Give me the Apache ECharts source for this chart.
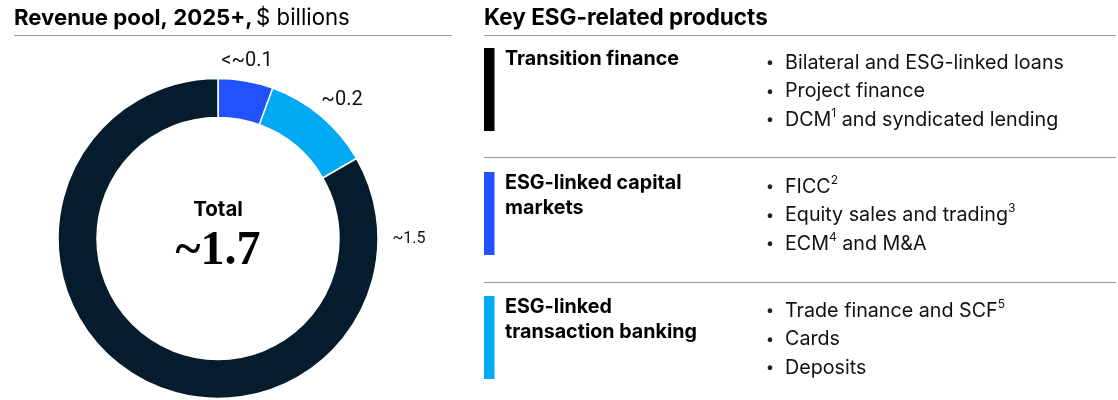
<!DOCTYPE html>
<html>
<head>
<meta charset="utf-8">
<script src="https://cdn.jsdelivr.net/npm/echarts@6/dist/echarts.min.js"></script>
<style>
html,body{margin:0;padding:0;background:#fff;}
#c{width:1118px;height:400px;}
</style>
</head>
<body>
<div id="c"></div>
<script>
// ---- data ----
const segmentNames = ['ESG-linked capital markets', 'ESG-linked transaction banking', 'Transition finance'];
const segmentValues = [0.1, 0.2, 1.5];
const segmentLabels = ['<~0.1', '~0.2', '~1.5'];
const segmentColors = ['#2251FF', '#00A9F4', '#051C2C'];
const totalLabel = '~1.7';
const leftTitleBold = 'Revenue pool, 2025+,';
const leftTitleUnit = '$ billions';
const rightTitle = 'Key ESG-related products';
const categories = ['Transition finance', 'ESG-linked capital\nmarkets', 'ESG-linked\ntransaction banking'];
const categoryColors = ['#000000', '#2251FF', '#00A9F4'];
const products = [
  ['Bilateral and ESG-linked loans', 'Project finance', 'DCM{sup|1} and syndicated lending'],
  ['FICC{sup|2}', 'Equity sales and trading{sup|3}', 'ECM{sup|4} and M&A'],
  ['Trade finance and SCF{sup|5}', 'Cards', 'Deposits']
];

// ---- layout ----
const FONT = 'Inter, "Liberation Sans", sans-serif';
const LFONT = 'Roboto, "Liberation Sans", sans-serif';
const labelPos = [[247, 61], [342, 100], [409, 239]];
const labelSize = [20, 20, 16];
const ruleColor = '#9a9a9a';
const groupTop = [48, 172, 296];
const barH = 83;

const graphic = [];
graphic.push({
  type: 'text', x: 14, y: 18,
  style: {
    text: '{b|' + leftTitleBold + '} {r|' + leftTitleUnit + '}',
    verticalAlign: 'middle',
    rich: {
      b: { fontFamily: FONT, fontSize: 22.2, fontWeight: 'bold', fill: '#000' },
      r: { fontFamily: FONT, fontSize: 22.2, fill: '#000' }
    }
  }
});
graphic.push({ type: 'line', shape: { x1: 14, y1: 35.5, x2: 452, y2: 35.5 }, style: { stroke: ruleColor, lineWidth: 1 } });
graphic.push({
  type: 'text', x: 484, y: 18,
  style: { text: rightTitle, fontFamily: FONT, fontSize: 22.5, fontWeight: 'bold', fill: '#000', verticalAlign: 'middle' }
});
graphic.push({ type: 'line', shape: { x1: 484, y1: 35.5, x2: 1116, y2: 35.5 }, style: { stroke: ruleColor, lineWidth: 1 } });
[157.5, 282.5].forEach(function (y) {
  graphic.push({ type: 'line', shape: { x1: 484, y1: y, x2: 1116, y2: y }, style: { stroke: ruleColor, lineWidth: 1 } });
});
// center text
graphic.push({
  type: 'text', x: 218, y: 210,
  style: { text: 'Total', fontFamily: FONT, fontSize: 20.5, fontWeight: 'bold', fill: '#000', align: 'center', verticalAlign: 'middle' }
});
graphic.push({
  type: 'text', x: 218, y: 252,
  style: { text: totalLabel, fontFamily: '"Liberation Serif", "DejaVu Serif", serif', fontSize: 48, fontWeight: 'bold', fill: '#000', align: 'center', verticalAlign: 'middle' }
});

categories.forEach(function (cat, i) {
  const top = groupTop[i];
  graphic.push({ type: 'rect', shape: { x: 484, y: top, width: 10.5, height: barH }, style: { fill: categoryColors[i] } });
  cat.split('\n').forEach(function (line, j) {
    graphic.push({
      type: 'text', x: 505, y: top + 11.5 + j * 25,
      style: { text: line, fontFamily: FONT, fontSize: 19.7, fontWeight: 'bold', fill: '#000', verticalAlign: 'middle' }
    });
  });
  products[i].forEach(function (p, j) {
    const y = top + 13.5 + j * 28.5;
    graphic.push({
      type: 'text', x: 770, y: y + 1,
      style: { text: '•', fontFamily: FONT, fontSize: 15, fill: '#222', align: 'center', verticalAlign: 'middle' }
    });
    graphic.push({
      type: 'text', x: 785, y: y,
      style: {
        text: '{t|' + p.replace(/\{sup\|(\w+)\}/g, '}{sup|$1}{t|') + '}',
        verticalAlign: 'middle',
        rich: {
          t: { fontFamily: FONT, fontSize: 19.7, fill: '#111', lineHeight: 23, verticalAlign: 'bottom' },
          sup: { fontFamily: FONT, fontSize: 12, fill: '#111', lineHeight: 23, verticalAlign: 'top' }
        }
      }
    });
  });
});

const chart = echarts.init(document.getElementById('c'), null, { renderer: 'canvas' });
chart.setOption({
  animation: false,
  backgroundColor: '#fff',
  series: [{
    type: 'pie',
    center: [218, 238.5],
    radius: [121, 160],
    startAngle: 90,
    clockwise: true,
    silent: true,
    avoidLabelOverlap: false,
    data: segmentValues.map(function (v, i) {
      return {
        name: segmentNames[i], value: v,
        itemStyle: { color: segmentColors[i] },
        label: { fontSize: labelSize[i] }
      };
    }),
    itemStyle: { borderColor: '#fff', borderWidth: 1.5 },
    label: {
      show: true, position: 'outside',
      fontFamily: LFONT, color: '#111',
      formatter: function (p) { return segmentLabels[p.dataIndex]; }
    },
    labelLine: { show: false },
    labelLayout: function (p) {
      const pos = labelPos[p.dataIndex];
      return { x: pos[0], y: pos[1], align: 'center', verticalAlign: 'middle' };
    },
    emphasis: { disabled: true }
  }],
  graphic: graphic
});
</script>
</body>
</html>
